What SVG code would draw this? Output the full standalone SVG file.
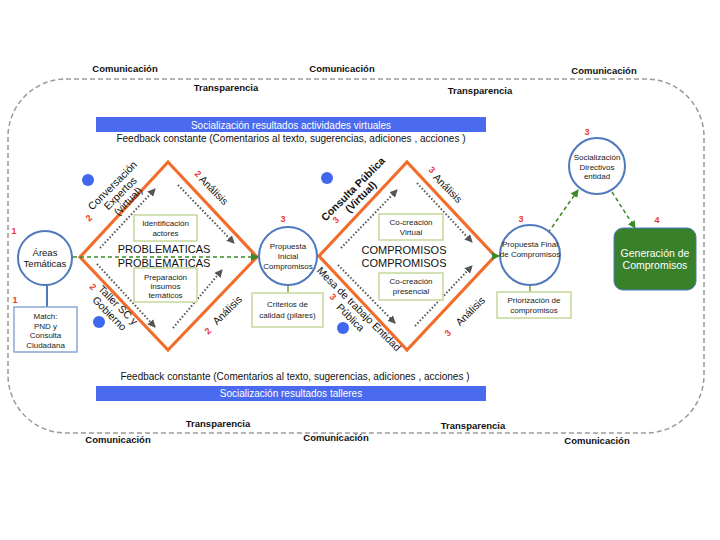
<svg xmlns="http://www.w3.org/2000/svg" width="720" height="540" viewBox="0 0 720 540">
<style>
text{font-family:"Liberation Sans",Arial,sans-serif;}
.lbl{font-size:9.5px;font-weight:bold;fill:#111;text-anchor:middle;}
.fb{font-size:10px;fill:#111;text-anchor:middle;}
.bar{fill:#4a6bef;}
.bart{font-size:10px;fill:#fff;text-anchor:middle;}
.dia{fill:none;stroke:#f26d2b;stroke-width:3.2;stroke-linejoin:miter;}
.circ{fill:#fff;stroke:#4f78bd;stroke-width:2;}
.gbox{fill:#fff;stroke:#c4d79c;stroke-width:1.5;}
.bbox{fill:#fff;stroke:#8aa6d4;stroke-width:1.5;}
.small{font-size:8px;fill:#222;text-anchor:middle;}
.mid{font-size:11px;fill:#111;text-anchor:middle;}
.rot{font-size:10.5px;fill:#111;text-anchor:middle;}
.rotb{font-size:10.5px;fill:#111;text-anchor:middle;font-weight:bold;}
.num{font-size:9px;font-weight:bold;fill:#ea3a30;text-anchor:middle;}
.dot{fill:none;stroke:#555;stroke-width:2;stroke-dasharray:1.5 2;}
.gdash{fill:none;stroke:#3b8a26;stroke-width:1.5;stroke-dasharray:4 3;}
.bdot{fill:#3f68ef;}
</style>
<defs>
<marker id="ag" markerWidth="8" markerHeight="8" refX="7" refY="4" orient="auto" markerUnits="userSpaceOnUse">
<path d="M0,0 L8,4 L0,8 z" fill="#555"/>
</marker>
<marker id="agr" markerWidth="8" markerHeight="8" refX="7" refY="4" orient="auto" markerUnits="userSpaceOnUse">
<path d="M0,0 L8,4 L0,8 z" fill="#3b8a26"/>
</marker>
</defs>
<rect width="720" height="540" fill="#fff"/>

<g id="frame">
<rect x="8" y="79" width="696" height="354" rx="58" ry="58" fill="none" stroke="#9a9a9a" stroke-width="1.5" stroke-dasharray="5 3"/>
<text class="lbl" x="125" y="72">Comunicación</text>
<text class="lbl" x="342" y="72">Comunicación</text>
<text class="lbl" x="604" y="74">Comunicación</text>
<text class="lbl" x="226" y="91">Transparencia</text>
<text class="lbl" x="480" y="94">Transparencia</text>
<text class="lbl" x="218" y="427">Transparencia</text>
<text class="lbl" x="473" y="429">Transparencia</text>
<text class="lbl" x="118" y="443">Comunicación</text>
<text class="lbl" x="336" y="441">Comunicación</text>
<text class="lbl" x="597" y="444">Comunicación</text>
</g>

<g id="top-bar">
<rect class="bar" x="96" y="117" width="390" height="15"/>
<text class="bart" x="291" y="128.5">Socialización resultados actividades virtuales</text>
<text class="fb" x="291" y="141.5">Feedback constante (Comentarios al texto, sugerencias, adiciones , acciones )</text>
</g>
<g id="bottom-bar">
<text class="fb" x="295" y="379.5">Feedback constante (Comentarios al texto, sugerencias, adiciones , acciones )</text>
<rect class="bar" x="96" y="386" width="390" height="15"/>
<text class="bart" x="291" y="397">Socialización resultados talleres</text>
</g>

<g id="diamond-problematicas">
<polygon class="dia" points="80,257 168,162 257,257 168,350"/>
<text class="mid" x="164" y="253">PROBLEMATICAS</text>
<text class="mid" x="164" y="267">PROBLEMATICAS</text>
<g transform="translate(120,193) rotate(-45)"><text class="rot" y="-7">Conversación</text><text class="rot" y="4">Expertos</text><text class="rot" y="15">(virtual)</text></g>
<g transform="translate(114,309) rotate(45)"><text class="rot" y="-2">Taller SC y</text><text class="rot" y="10">Gobierno</text></g>
<g transform="translate(214,190) rotate(45)"><text class="rot" y="4">Análisis</text></g>
<g transform="translate(227,310) rotate(-45)"><text class="rot" y="4">Análisis</text></g>
</g>

<g id="diamond-compromisos">
<polygon class="dia" points="319,256 407,162 495,256 407,350"/>
<text class="mid" x="404" y="254">COMPROMISOS</text>
<text class="mid" x="404" y="267">COMPROMISOS</text>
<g transform="translate(357,193) rotate(-45)"><text class="rotb" y="-2">Consulta Pública</text><text class="rotb" y="9">(Virtual)</text></g>
<g transform="translate(355,313) rotate(45)"><text class="rot" y="-2">Mesa de trabajo Entidad</text><text class="rot" y="10">Pública</text></g>
<g transform="translate(448,188) rotate(45)"><text class="rot" y="4">Análisis</text></g>
<g transform="translate(470,311) rotate(-45)"><text class="rot" y="4">Análisis</text></g>
</g>

<g id="connectors">
<line x1="47" y1="285" x2="47" y2="307" stroke="#4f78bd" stroke-width="2"/>
<line x1="288" y1="285" x2="288" y2="293" stroke="#9bbb59" stroke-width="2"/>
<line x1="530" y1="286" x2="530" y2="292" stroke="#9bbb59" stroke-width="2"/>
<line class="gdash" x1="73" y1="257" x2="258" y2="257" marker-end="url(#agr)"/>
<line x1="495" y1="256" x2="499" y2="256" stroke="#3b8a26" stroke-width="1.5" marker-end="url(#agr)"/>
<line class="gdash" x1="548" y1="233" x2="578" y2="190" marker-end="url(#agr)"/>
<line class="gdash" x1="612" y1="192" x2="635" y2="228" marker-end="url(#agr)"/>
<line class="dot" x1="100" y1="248" x2="155" y2="189" marker-end="url(#ag)"/>
<line class="dot" x1="178" y1="185" x2="234" y2="243" marker-end="url(#ag)"/>
<line class="dot" x1="97" y1="264" x2="155" y2="327" marker-end="url(#ag)"/>
<line class="dot" x1="173" y1="328" x2="222" y2="270" marker-end="url(#ag)"/>
<line class="dot" x1="341" y1="248" x2="397" y2="190" marker-end="url(#ag)"/>
<line class="dot" x1="417" y1="183" x2="472" y2="242" marker-end="url(#ag)"/>
<line class="dot" x1="338" y1="265" x2="395" y2="323" marker-end="url(#ag)"/>
<line class="dot" x1="415" y1="326" x2="472" y2="266" marker-end="url(#ag)"/>
</g>

<g id="areas-tematicas">
<circle class="circ" cx="45" cy="258" r="27"/>
<text x="45" y="256" style="font-size:9.5px;fill:#111;text-anchor:middle">Áreas</text>
<text x="45" y="267" style="font-size:9.5px;fill:#111;text-anchor:middle">Temáticas</text>
</g>
<g id="match">
<rect class="bbox" x="14" y="307" width="63" height="45"/>
<text class="small" x="45.5" y="319">Match:</text>
<text class="small" x="45.5" y="328.5">PND y</text>
<text class="small" x="45.5" y="338">Consulta</text>
<text class="small" x="45.5" y="347.5">Ciudadana</text>
</g>
<g id="identificacion">
<rect class="gbox" x="134" y="215" width="63" height="26"/>
<text class="small" x="165.5" y="226">Identificación</text>
<text class="small" x="165.5" y="235.5">actores</text>
</g>
<g id="preparacion">
<rect class="gbox" x="134" y="268" width="63" height="34"/>
<text class="small" x="165.5" y="280">Preparación</text>
<text class="small" x="165.5" y="289">insumos</text>
<text class="small" x="165.5" y="298">temáticos</text>
</g>
<g id="propuesta-inicial">
<circle class="circ" cx="288" cy="256" r="29"/>
<text class="small" x="288" y="249">Propuesta</text>
<text class="small" x="288" y="259">Inicial</text>
<text class="small" x="288" y="269">Compromisos</text>
</g>
<g id="criterios">
<rect class="gbox" x="252" y="293" width="71" height="34"/>
<text class="small" x="287.5" y="307">Criterios de</text>
<text class="small" x="287.5" y="318">calidad (pilares)</text>
</g>
<g id="co-creacion-virtual">
<rect class="gbox" x="379" y="214" width="64" height="26"/>
<text class="small" x="411" y="225">Co-creación</text>
<text class="small" x="411" y="235">Virtual</text>
</g>
<g id="co-creacion-presencial">
<rect class="gbox" x="379" y="273" width="64" height="27"/>
<text class="small" x="411" y="284">Co-creación</text>
<text class="small" x="411" y="294">presencial</text>
</g>
<g id="propuesta-final">
<circle class="circ" cx="530" cy="255" r="30"/>
<text class="small" x="530" y="247">Propuesta Final</text>
<text class="small" x="530" y="257">de Compromisos</text>
</g>
<g id="priorizacion">
<rect class="gbox" x="497" y="292" width="74" height="26"/>
<text class="small" x="534" y="303">Priorización de</text>
<text class="small" x="534" y="313">compromisos</text>
</g>
<g id="socializacion-directivos">
<circle class="circ" cx="597" cy="166" r="28"/>
<text class="small" x="597" y="160">Socialización</text>
<text class="small" x="597" y="169.5">Directivos</text>
<text class="small" x="597" y="179">entidad</text>
</g>
<g id="generacion">
<rect x="614" y="228" width="82" height="62" rx="9" fill="#38802a" stroke="#4f78bd" stroke-width="1"/>
<text x="655" y="257" style="font-size:10.5px;fill:#fff;text-anchor:middle">Generación de</text>
<text x="655" y="269" style="font-size:10.5px;fill:#fff;text-anchor:middle">Compromisos</text>
</g>

<g id="markers-dots">
<circle class="bdot" cx="88" cy="180" r="6"/>
<circle class="bdot" cx="99" cy="322" r="6"/>
<circle class="bdot" cx="327" cy="178" r="6"/>
<circle class="bdot" cx="343" cy="328" r="6"/>
</g>

<g id="numbers">
<text class="num" x="14" y="234">1</text>
<text class="num" x="15" y="303">1</text>
<text class="num" transform="translate(89,218) rotate(-45)" y="3">2</text>
<text class="num" transform="translate(93,287) rotate(45)" y="3">2</text>
<text class="num" transform="translate(198,174) rotate(45)" y="3">2</text>
<text class="num" transform="translate(208,331) rotate(-45)" y="3">2</text>
<text class="num" x="283" y="222">3</text>
<text class="num" transform="translate(336,220) rotate(-45)" y="3">3</text>
<text class="num" transform="translate(432,170) rotate(45)" y="3">3</text>
<text class="num" transform="translate(333,297) rotate(45)" y="3">3</text>
<text class="num" transform="translate(448,333) rotate(-45)" y="3">3</text>
<text class="num" x="587" y="135">3</text>
<text class="num" x="521" y="222">3</text>
<text class="num" x="657" y="223">4</text>
</g>
</svg>
